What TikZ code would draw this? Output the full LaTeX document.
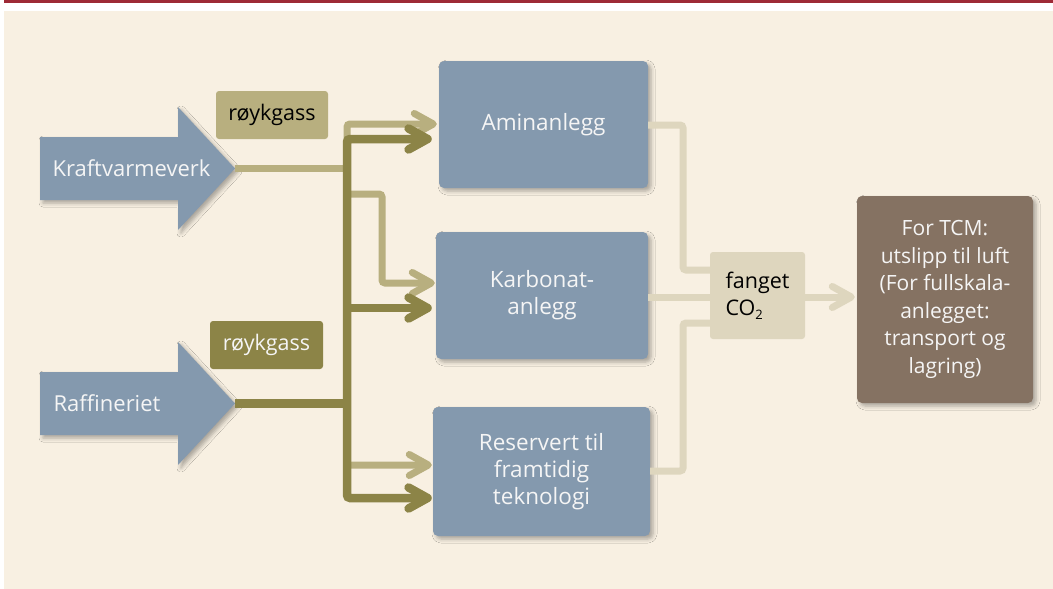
\documentclass[tikz,border=0pt]{standalone}
\usepackage{fontspec}
\setmainfont{Open Sans}
\usetikzlibrary{arrows.meta,shadows.blur}
\definecolor{pagebg}{HTML}{F8F0E2}
\definecolor{topred}{HTML}{9E2A36}
\definecolor{boxblue}{HTML}{8499AE}
\definecolor{oliveL}{HTML}{B8AF7F}
\definecolor{oliveD}{HTML}{8C8447}
\definecolor{co2c}{HTML}{DED6BE}
\definecolor{tcmc}{HTML}{857262}
\definecolor{txtw}{HTML}{F5F5F5}
\tikzset{
  chev/.tip={Straight Barb[length=19pt,width=21pt,line cap=round,line join=round]},
  softshadow/.style={blur shadow={shadow xshift=3pt,shadow yshift=-3pt,shadow blur radius=4pt,shadow opacity=32}},
  lbl/.style={font=\fontsize{21.5}{27}\selectfont, align=center, inner sep=0pt},
  bluebox/.style={lbl, fill=boxblue, text=txtw, rounded corners=5pt, softshadow},
  gasbox/.style={lbl, rounded corners=3pt, minimum width=112pt, minimum height=48pt},
  co2box/.style={lbl, align=left, fill=co2c, text=black, rounded corners=3pt},
  tcmbox/.style={lbl, fill=tcmc, text=txtw, rounded corners=5pt, softshadow},
  srcarrow/.style={fill=boxblue, softshadow},
  ltline/.style={draw=oliveL, line width=7pt, rounded corners=3pt},
  dkline/.style={draw=oliveD, line width=8.5pt, rounded corners=3pt},
  co2line/.style={draw=co2c, line width=7pt, rounded corners=3pt},
}
\begin{document}
\begin{tikzpicture}[x=1pt,y=-1pt]
\useasboundingbox (0,0) rectangle (1053,589);
\fill[white] (0,0) rectangle (1053,589);
\fill[topred] (4,0) rectangle (1053,2.8);
\fill[pagebg] (4,11) rectangle (1053,589);

% source arrows
\path[srcarrow] (40,137) -- (178,137) -- (178,107) -- (235,168.5) -- (178,230) -- (178,200) -- (40,200) -- cycle;
\node[lbl, text=txtw, font=\fontsize{22}{27}\selectfont] (kv) at (131.5,168.5) {Kraftvarmeverk};
\coordinate (kvtip) at (235,168.5);

\path[srcarrow] (40,372) -- (178,372) -- (178,342) -- (235,403.5) -- (178,465) -- (178,435) -- (40,435) -- cycle;
\node[lbl, text=txtw, font=\fontsize{22}{27}\selectfont] (raf) at (107,403.5) {Raffineriet};
\coordinate (raftip) at (235,403.5);

% flue gas labels
\node[gasbox, fill=oliveL, text=black] (rg1) at (272,115) {røykgass};
\node[gasbox, fill=oliveD, text=txtw, minimum width=113pt] (rg2) at (266.5,345) {røykgass};

% capture plants
\node[bluebox, font=\fontsize{22.5}{27}\selectfont, minimum width=209pt, minimum height=127pt] (amin) at (543.5,124.5) {Aminanlegg};
\node[bluebox, font=\fontsize{22.5}{27}\selectfont, minimum width=212pt, minimum height=127pt] (karb) at (542,295.5) {Karbonat-\\anlegg};
\node[bluebox, font=\fontsize{22.5}{27}\selectfont, minimum width=217pt, minimum height=129pt] (resv) at (541.5,471.5) {Reservert til\\framtidig\\teknologi};

% captured CO2 and destination
\node[co2box, minimum width=95pt, minimum height=87pt] (fang) at (757.5,295.5) {fanget\\CO\raisebox{-0.35ex}{\fontsize{13}{13}\selectfont 2}};
\node[tcmbox, minimum width=176pt, minimum height=207pt, font=\fontsize{21}{27.5}\selectfont] (tcm) at (945,299.5) {For TCM:\\utslipp til luft\\(For fullskala-\\anlegget:\\transport og\\lagring)};

% light flue gas (Kraftvarmeverk)
\draw[ltline] (kvtip) -- (347,168.5);
\draw[ltline, {chev}-{chev}] ([xshift=-2pt]amin.west |- 0,124) -- (347,124) -- (347,465) -- ([xshift=-1pt]resv.west |- 0,465);
\draw[ltline, -{chev}] (347,194) -- (382,194) -- (382,283) -- ([xshift=-1pt]karb.west |- 0,283);

% dark flue gas (Raffineriet)
\draw[dkline] (raftip) -- (347,403.5);
\draw[dkline, {chev}-{chev}] ([xshift=-7pt]amin.west |- 0,139) -- (347,139) -- (347,498) -- ([xshift=-1pt]resv.west |- 0,498);
\draw[dkline, -{chev}] (347,308) -- ([xshift=-4pt]karb.west |- 0,308);

% captured CO2 lines
\draw[co2line] (amin.east |- 0,125) -- (683,125) -- (683,270) -- (fang.west |- 0,270);
\draw[co2line] (karb.east |- 0,297) -- (fang.west |- 0,297);
\draw[co2line] (resv.east |- 0,471) -- (683,471) -- (683,323) -- (fang.west |- 0,323);
\draw[co2line, -{chev}] (fang.east |- 0,297) -- ([xshift=-2pt]tcm.west |- 0,297);
\end{tikzpicture}
\end{document}
